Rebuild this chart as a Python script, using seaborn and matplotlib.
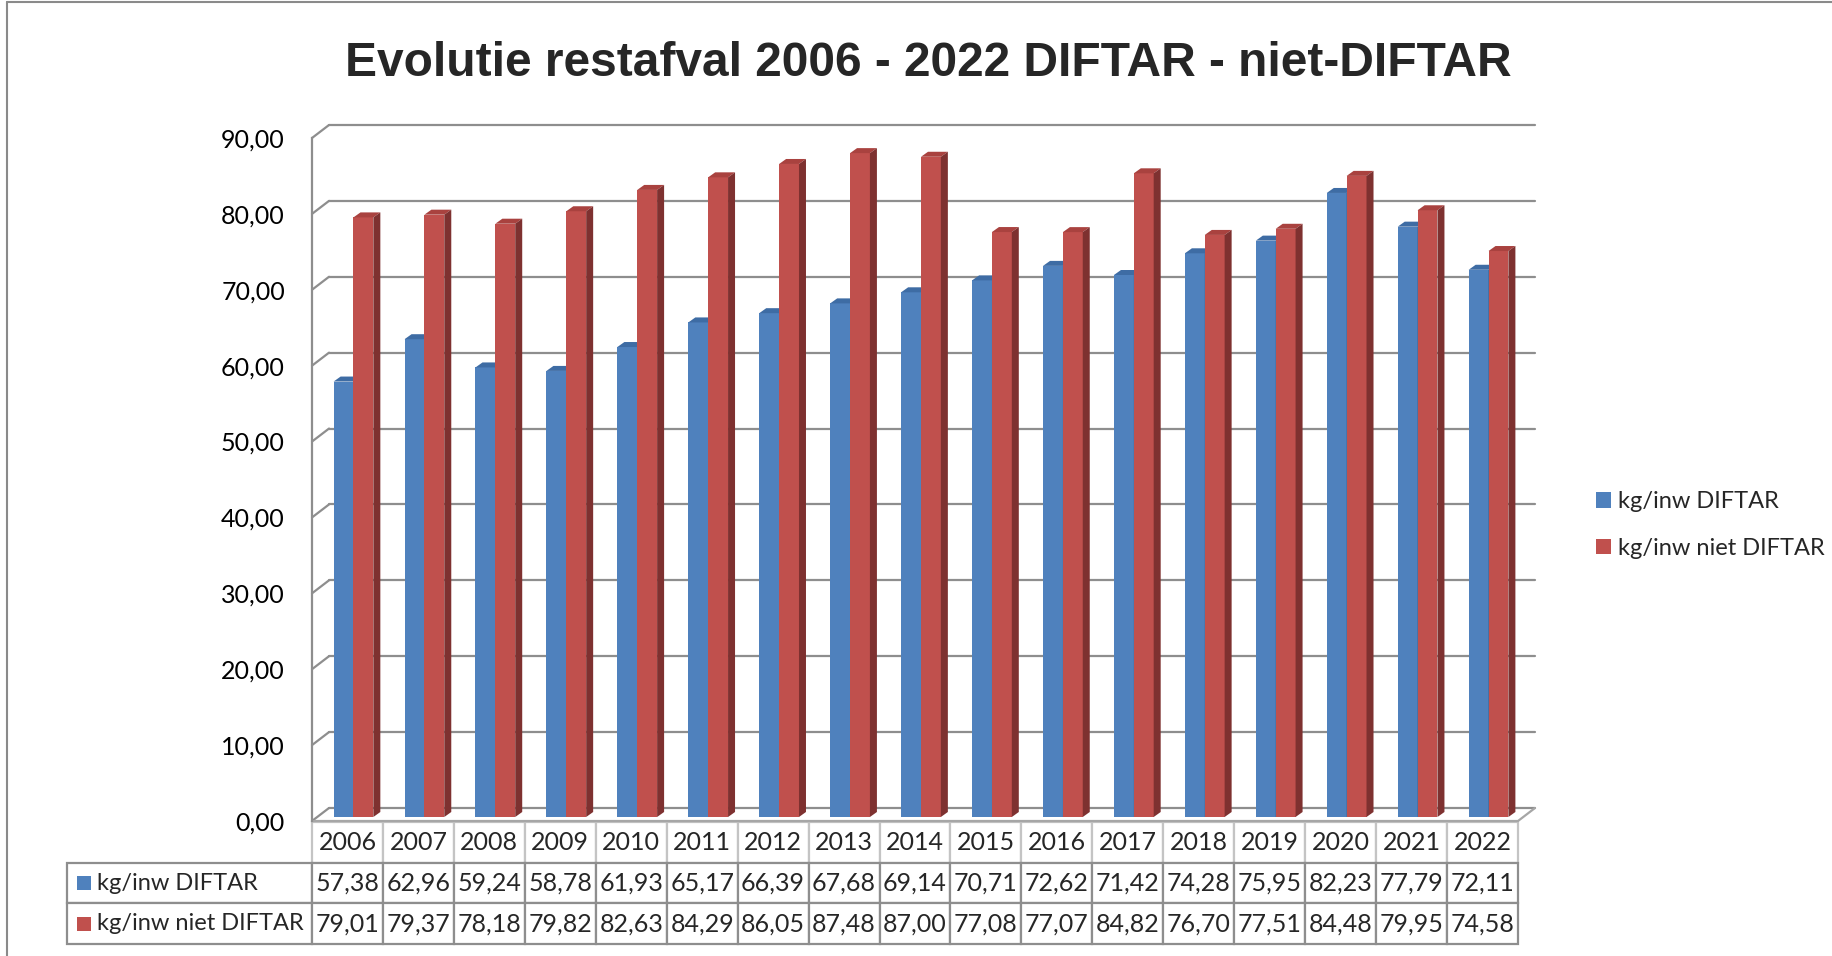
import matplotlib
matplotlib.use("Agg")
import matplotlib.pyplot as plt
from matplotlib.patches import Polygon, Patch, Rectangle
from matplotlib.lines import Line2D
from matplotlib.table import Table
from matplotlib.ticker import FuncFormatter
import matplotlib.transforms as mtransforms
import pandas as pd
import seaborn as sns

# Data (kg per inwoner)
years = [str(y) for y in range(2006, 2023)]
diftar = [57.38, 62.96, 59.24, 58.78, 61.93, 65.17, 66.39, 67.68, 69.14,
          70.71, 72.62, 71.42, 74.28, 75.95, 82.23, 77.79, 72.11]
niet_diftar = [79.01, 79.37, 78.18, 79.82, 82.63, 84.29, 86.05, 87.48, 87.00,
               77.08, 77.07, 84.82, 76.70, 77.51, 84.48, 79.95, 74.58]
series = ["kg/inw DIFTAR", "kg/inw niet DIFTAR"]
yticks = list(range(0, 100, 10))

colors = ["#4F81BD", "#C0504D"]
top_colors = ["#3E6CA4", "#A9423F"]
side_colors = ["#385F8E", "#7E3130"]
grid_col = "#8E8E8E"

df = pd.DataFrame({
    "jaar": years * 2,
    "kg": diftar + niet_diftar,
    "reeks": [series[0]] * len(years) + [series[1]] * len(years),
})


def fmt(v):
    return f"{v:.2f}".replace(".", ",")


sns.set_style("white")
plt.rcParams["font.family"] = ["Lato", "DejaVu Sans"]

W, H = 1832, 956
fig = plt.figure(figsize=(W / 100, H / 100), dpi=100)
fig.patch.set_facecolor("white")

# front plane of the pseudo-3D plot, in pixels
px0, px1, py0, py1 = 312, 1518, 821, 138
ax = fig.add_axes([px0 / W, 1 - py0 / H, (px1 - px0) / W, (py0 - py1) / H])

sns.barplot(data=df, x="jaar", y="kg", hue="reeks", palette=colors,
            width=0.56, saturation=1, errorbar=None, legend=False, ax=ax)
ax.set_xlim(-0.5, len(years) - 0.5)
ax.set_ylim(0, 90)

# depth of the back wall (pixels)
ddx, ddy = 17, 13
ax_w, ax_h = px1 - px0, py0 - py1
dxa, dya = ddx / ax_w, ddy / ax_h

# back wall gridlines + connectors
for v in yticks:
    ya = v / 90
    ax.add_line(Line2D([dxa, 1 + dxa], [ya + dya, ya + dya], transform=ax.transAxes,
                       color=grid_col, lw=1.6, clip_on=False, zorder=0.5))
    ax.add_line(Line2D([0, dxa], [ya, ya + dya], transform=ax.transAxes,
                       color=grid_col, lw=1.6, clip_on=False, zorder=0.5))
# floor
ax.add_line(Line2D([0, 1, 1 + dxa], [0, 0, dya], transform=ax.transAxes,
                   color="#A6A6A6", lw=1.6, clip_on=False, zorder=0.6))

# bar depth faces
unit_x = ax_w / len(years)
unit_y = ax_h / 90
off = mtransforms.offset_copy(ax.transData, fig=fig, x=6, y=4, units="dots")
bdx, bdy = 7 / unit_x, 5 / unit_y
for i, cont in enumerate(ax.containers):
    z = 2 + i
    for p in cont.patches:
        p.set_transform(off)
        p.set_zorder(z)
        p.set_edgecolor("none")
        bx, bw, bh = p.get_x(), p.get_width(), p.get_height()
        top = Polygon([(bx, bh), (bx + bw, bh), (bx + bw + bdx, bh + bdy), (bx + bdx, bh + bdy)],
                      closed=True, facecolor=top_colors[i], edgecolor="none",
                      transform=off, zorder=z, clip_on=False)
        side = Polygon([(bx + bw, 0), (bx + bw, bh), (bx + bw + bdx, bh + bdy), (bx + bw + bdx, bdy)],
                       closed=True, facecolor=side_colors[i], edgecolor="none",
                       transform=off, zorder=z, clip_on=False)
        ax.add_patch(top)
        ax.add_patch(side)

# axes styling
for s in ["top", "right", "bottom"]:
    ax.spines[s].set_visible(False)
ax.spines["left"].set_color(grid_col)
ax.spines["left"].set_linewidth(1.6)
ax.set_yticks(yticks)
ax.yaxis.set_major_formatter(FuncFormatter(lambda v, p: fmt(v)))
ax.tick_params(axis="y", length=6.5, width=1.6, color=grid_col, pad=13,
               labelsize=18, labelcolor="black")
ax.set_xticks([])
ax.set_xlabel("")
ax.set_ylabel("")

# data table under the plot
tb_left, tb_right, tb_top, tb_bot = 67, 1518, 822, 944
tbl = Table(ax, bbox=[(tb_left - px0) / ax_w, (py0 - tb_bot) / ax_h,
                      (tb_right - tb_left) / ax_w, (tb_bot - tb_top) / ax_h])
lab_w = (px0 - tb_left) / ax_w
col_w = 1 / len(years)
rh = 1 / 3
c = tbl.add_cell(0, 0, lab_w, rh, text="", loc="left")
c.set_visible(False)
for j, yr in enumerate(years):
    c = tbl.add_cell(0, j + 1, col_w, rh, text=yr, loc="center", edgecolor="#C4C4C4")
    c.set_linewidth(1.6)
label_cells = []
for r, (name, vals) in enumerate(zip(series, [diftar, niet_diftar])):
    c = tbl.add_cell(r + 1, 0, lab_w, rh, text=" " + name, loc="left", edgecolor=grid_col)
    c.set_linewidth(1.6)
    label_cells.append(c)
    for j, v in enumerate(vals):
        c = tbl.add_cell(r + 1, j + 1, col_w, rh, text=fmt(v), loc="center", edgecolor=grid_col)
        c.set_linewidth(1.6)
tbl.auto_set_font_size(False)
tbl.set_fontsize(18)
for c in label_cells:
    c.get_text().set_fontsize(17)
ax.add_table(tbl)

# colour keys in the table
row_h = (tb_bot - tb_top) / 3
for r in range(2):
    cy = tb_top + row_h * (r + 1.5)
    fig.add_artist(Rectangle((77 / W, 1 - (cy + 7) / H), 14 / W, 14 / H,
                             transform=fig.transFigure, facecolor=colors[r], edgecolor="none"))

# legend
handles = [Patch(facecolor=c, edgecolor="none") for c in colors]
fig.legend(handles, series, loc="center left", bbox_to_anchor=(1596 / W, 1 - 525 / H),
           frameon=False, fontsize=17, handlelength=0.64, handleheight=0.64,
           handletextpad=0.3, borderpad=0, borderaxespad=0, labelspacing=1.1)

# title
fig.text(928 / W, 1 - 76 / H, "Evolutie restafval 2006 - 2022 DIFTAR - niet-DIFTAR",
         ha="center", va="baseline", fontsize=34.5, fontweight="bold",
         family=["Liberation Sans", "DejaVu Sans"])

# outer chart border (left and top)
fig.add_artist(Line2D([7 / W, 7 / W], [0, 1 - 2 / H], transform=fig.transFigure,
                      color="#8A8A8A", lw=1.5))
fig.add_artist(Line2D([7 / W, 1], [1 - 2 / H, 1 - 2 / H], transform=fig.transFigure,
                      color="#8A8A8A", lw=1.5))

fig.savefig("out.png", dpi=100)
